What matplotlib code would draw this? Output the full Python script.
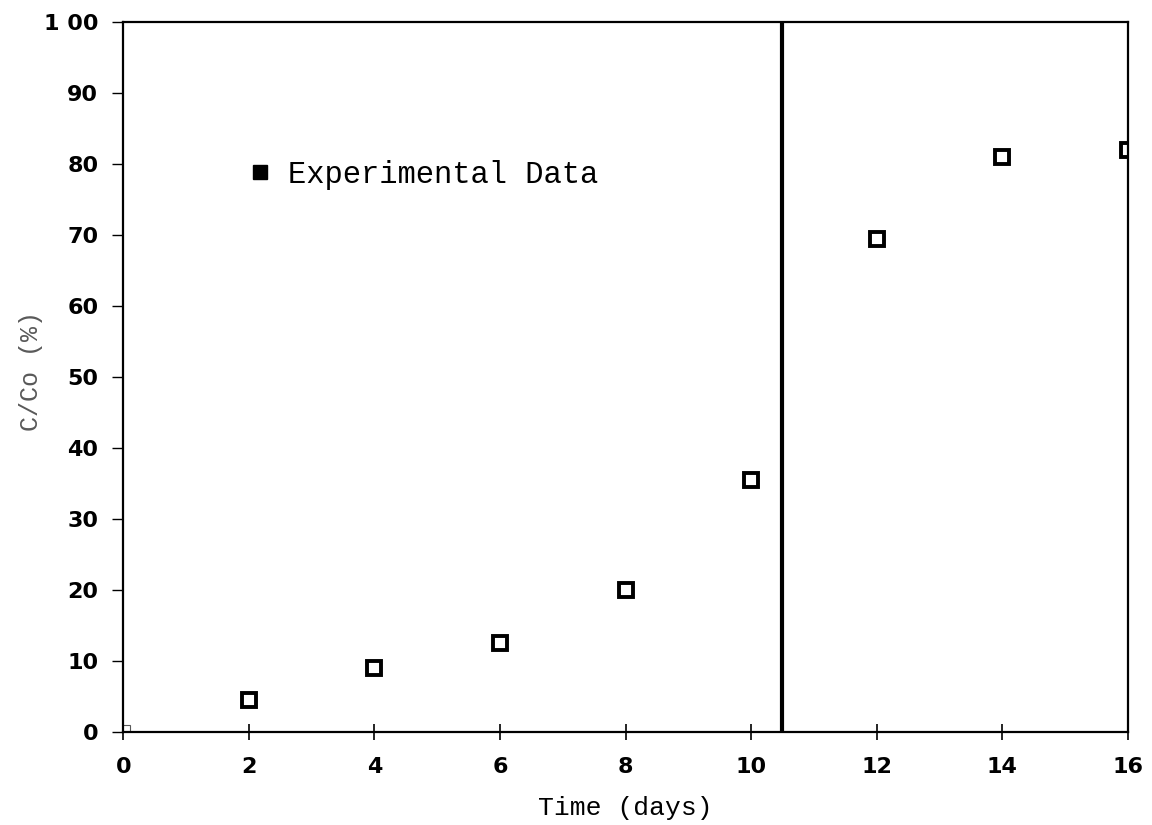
import numpy as np
import matplotlib.pyplot as plt
from matplotlib.lines import Line2D

# Breakthrough data: relative concentration vs. time
days = [0, 2, 4, 6, 8, 10, 12, 14, 16]
c_over_co = [0, 4.5, 9, 12.5, 20, 35.5, 69.5, 81, 82]
x_ticks = [0, 2, 4, 6, 8, 10, 12, 14, 16]
y_ticks = [0, 10, 20, 30, 40, 50, 60, 70, 80, 90, 100]
y_tick_labels = ['0', '10', '20', '30', '40', '50', '60', '70', '80', '90', '1 00']
breakthrough_day = 10.5

fig = plt.figure(figsize=(11.52, 8.25), dpi=100)
ax = fig.add_axes([0.107, 0.113, 0.872, 0.86])

# origin point drawn faintly, the rest as heavy open squares
ax.plot(days[:1], c_over_co[:1], linestyle='none', marker='s', ms=10,
        mfc='none', mec='0.35', mew=0.8)
ax.plot(days[1:], c_over_co[1:], linestyle='none', marker='s', ms=10,
        mfc='white', mec='black', mew=2.8)

# breakthrough divider
ax.plot([breakthrough_day, breakthrough_day], [0, 100], color='black',
        lw=3, solid_capstyle='round')

ax.set_xlim(0, 16)
ax.set_ylim(0, 100)
ax.set_xticks(x_ticks)
ax.set_yticks(y_ticks)
ax.set_yticklabels(y_tick_labels)

for s in ax.spines.values():
    s.set_linewidth(1.6)
ax.tick_params(axis='x', direction='inout', length=12, width=1.2, pad=12,
               labelsize=16)
ax.tick_params(axis='y', direction='out', length=8, width=1.0, pad=10,
               labelsize=16)
for lab in ax.get_xticklabels() + ax.get_yticklabels():
    lab.set_fontweight('bold')

ax.set_xlabel('Time (days)', family='Liberation Mono', fontsize=19,
              labelpad=14)
ax.set_ylabel('C/Co (%)', family='Liberation Mono', fontsize=18,
              color='0.35')
ax.yaxis.set_label_coords(-0.08, 0.508)

handle = Line2D([], [], linestyle='none', marker='s', ms=10, mfc='black',
                mec='black')
ax.legend([handle], ['Experimental Data'], loc='center left',
          bbox_to_anchor=(0.097, 0.785), frameon=False, handlelength=0.8,
          handletextpad=0.5, prop={'family': 'Liberation Mono', 'size': 22})

fig.savefig('out.png', dpi=100)
